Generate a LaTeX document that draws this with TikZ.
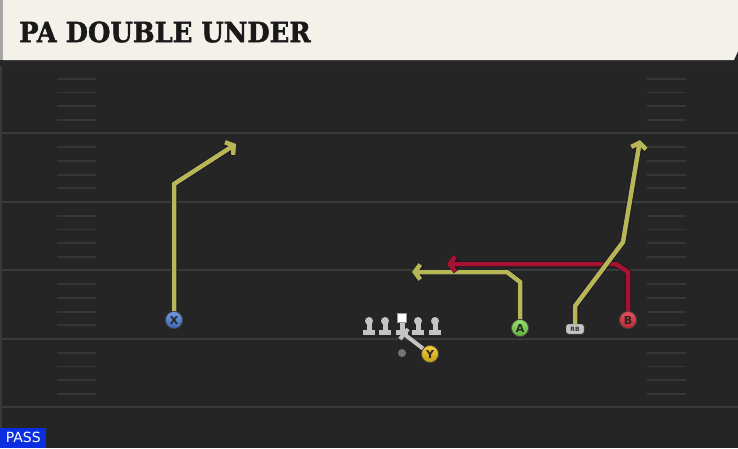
\documentclass[tikz,border=0pt]{standalone}
\usepackage{fontspec}
\setmainfont{DejaVu Sans}
\newfontfamily\titlefont{DejaVu Serif}[FakeStretch=0.92, FakeBold=1.5]
\usetikzlibrary{arrows.meta}
\definecolor{fieldbg}{HTML}{252525}
\definecolor{fieldline}{HTML}{3A3A3A}
\definecolor{hashline}{HTML}{363636}
\definecolor{titlebg}{HTML}{F4F1EA}
\definecolor{routeyellow}{HTML}{B9B655}
\definecolor{routered}{HTML}{A6132F}
\definecolor{routeedge}{HTML}{14142A}
\definecolor{xblue}{HTML}{4C80DC}
\definecolor{agreen}{HTML}{7BD848}
\definecolor{bred}{HTML}{E4303F}
\definecolor{yyellow}{HTML}{F2C51C}
\definecolor{linegray}{HTML}{C4C4C4}
\definecolor{passblue}{HTML}{0B2FE0}
\begin{document}
\begin{tikzpicture}[x=1pt, y=-1pt,
    yardline/.style={draw=fieldline, line width=2pt},
    hash/.style={draw=hashline, line width=1.8pt},
    player/.style={circle, draw=black!75, line width=0.7pt, inner sep=0pt, minimum size=17pt, text=black!85, font=\bfseries\fontsize{11}{11}\selectfont},
    route/.style={draw=routeyellow, line width=4.5pt, preaction={draw=routeedge, line width=6pt}, -{Straight Barb[length=5.5pt,width=15pt]}},
    redroute/.style={route, draw=routered},
    block/.style={draw=linegray, line width=4pt},
    lineman/.pic={
      \fill[linegray] (0,0) circle (4);
      \fill[linegray] (-2.5,0) rectangle (2.5,9);
      \fill[linegray] (-6,9) rectangle (6,14);
    }
  ]
  \useasboundingbox (0,0) rectangle (738,448);
  \fill[fieldbg] (0,0) rectangle (738,448);
  \draw[fieldline, line width=1.5pt] (1,66) -- (1,448);

  \foreach \s in {133, 201.5, 270, 338.5, 407}
    \draw[yardline] (0,\s) -- (738,\s);
  \foreach \s in {65, 133.5, 202, 270.5, 339}
    \foreach \i in {1,...,4} {
      \draw[hash] (57,{\s+13.7*\i}) -- (96,{\s+13.7*\i});
      \draw[hash] (647,{\s+13.7*\i}) -- (686,{\s+13.7*\i});
    }

  \fill[black!85] (0,60) rectangle (738,66);
  \fill[titlebg] (3,0) -- (738,0) -- (738,51) -- (734,60) -- (3,60) -- cycle;
  \fill[black!35] (0,0) rectangle (3,60);
  \node [anchor=west, inner sep=0pt, text=black!90, font=\titlefont\bfseries\fontsize{28}{28}\selectfont] (title) at (19,32) {PA DOUBLE UNDER};

  \node [player, top color=xblue!80!white, bottom color=xblue!80!black] (x) at (174,320) {X};
  \node [player, top color=agreen!80!white, bottom color=agreen!80!black] (a) at (520,328) {A};
  \node [player, top color=bred!85!white, bottom color=bred!80!black] (b) at (628,320) {B};
  \node [player, top color=yyellow!85!white, bottom color=yyellow!80!black] (y) at (430,354) {Y};
  \node [draw=black!70, fill=linegray, rounded corners=2.5pt, minimum width=18pt, minimum height=10pt, inner sep=0pt, text=black!80, font=\bfseries\fontsize{6}{6}\selectfont] (rb) at (575,329) {RB};
  \node [circle, fill=black!55, inner sep=0pt, minimum size=8pt] (qb) at (402,353) {};

  \coordinate (xb) at (174,184);
  \coordinate (xe) at (236,144);
  \coordinate (ab) at (520,282);
  \coordinate (ac) at (507,272);
  \coordinate (ae) at (412,272);
  \coordinate (bb) at (628,272);
  \coordinate (bc) at (616,264);
  \coordinate (be) at (447,264);
  \coordinate (rbb) at (575,306);
  \coordinate (rbc) at (623,242);
  \coordinate (rbe) at (640,140);
  \coordinate (yb) at (404,334);
  \coordinate (yl) at (400,339);
  \coordinate (yr) at (408,329);

  \path [route] (x) -- (xb) -- (xe);
  \path [route] (a) -- (ab) -- (ac) -- (ae);
  \path [redroute] (b) -- (bb) -- (bc) -- (be);
  \path [route] (rb) -- (rbb) -- (rbc) -- (rbe);
  \path [block] (y) -- (yb);
  \path [block] (yl) -- (yr);

  \pic (lt) at (369,321) {lineman};
  \pic (lg) at (385,321) {lineman};
  \pic (rg) at (418,321) {lineman};
  \pic (rt) at (435,321) {lineman};
  \fill[linegray] (399.5,321) rectangle (404.5,330);
  \fill[linegray] (396,330) rectangle (408,335);
  \node [fill=white, draw=black!40, inner sep=0pt, minimum size=9pt] (c) at (402,318) {};

  \node [player, top color=xblue!80!white, bottom color=xblue!80!black] at (x) {X};
  \node [player, top color=agreen!80!white, bottom color=agreen!80!black] at (a) {A};
  \node [player, top color=bred!85!white, bottom color=bred!80!black] at (b) {B};
  \node [player, top color=yyellow!85!white, bottom color=yyellow!80!black] at (y) {Y};

  \node [anchor=south west, fill=passblue, text=white, inner xsep=3pt, inner ysep=2pt, minimum width=46pt, minimum height=20pt, font=\fontsize{14}{14}\selectfont] (pass) at (0,448) {PASS};
\end{tikzpicture}
\end{document}
